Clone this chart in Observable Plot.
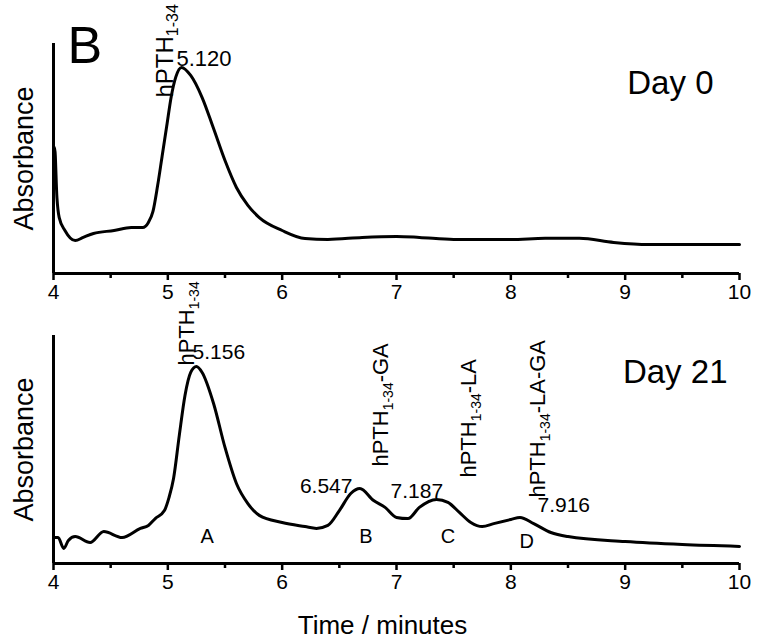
<!DOCTYPE html>
<html>
<head>
<meta charset="utf-8">
<script src="https://cdn.jsdelivr.net/npm/d3@7"></script>
<script src="https://cdn.jsdelivr.net/npm/@observablehq/plot@0.6"></script>
<style>
  body { margin: 0; background: white; }
  #chart { width: 764px; }
  #chart svg { display: block; }
</style>
</head>
<body>
<div id="chart"></div>
<script>
// ---------- data ----------
const xTicks = [4, 5, 6, 7, 8, 9, 10];
const xMinorTicks = [4.5, 5.5, 6.5, 7.5, 8.5, 9.5];

// Day 0 chromatogram
const day0Time = [4.00,4.01,4.03,4.05,4.10,4.19,4.26,4.35,4.53,4.68,4.78,4.83,4.87,4.91,4.95,4.99,5.03,5.07,5.12,5.20,5.30,5.40,5.50,5.60,5.70,5.80,6.00,6.20,6.40,6.70,7.00,7.20,7.50,7.80,8.00,8.30,8.60,8.90,9.20,10.00];
const day0Abs  = [54.0,54.8,33.0,24.3,18.7,14.3,15.7,17.4,18.7,20.0,20.0,22.2,27.0,38.0,51.0,64.0,77.0,85.5,89.6,86.1,76.5,63.0,49.1,37.4,29.6,24.3,18.7,15.2,14.8,15.7,16.1,15.7,14.8,14.8,14.8,15.3,15.3,13.5,12.6,12.6];

// Day 21 chromatogram
const day21Time = [4.00,4.04,4.09,4.13,4.19,4.32,4.44,4.60,4.76,4.83,4.89,4.97,5.01,5.05,5.10,5.15,5.20,5.25,5.30,5.40,5.50,5.60,5.70,5.80,6.00,6.20,6.30,6.40,6.50,6.60,6.68,6.80,6.90,7.00,7.10,7.20,7.35,7.45,7.55,7.65,7.75,7.85,8.00,8.08,8.20,8.35,8.50,9.00,9.50,10.00];
const day21Abs  = [11.4,11.4,6.6,10.1,11.8,9.2,14.0,11.4,15.4,16.7,19.7,23.2,28.9,37.3,56.1,73.7,83.8,86.4,83.8,70.2,50.9,35.1,26.3,21.1,18.0,16.2,15.4,16.7,23.2,30.7,32.9,27.6,24.6,20.2,19.7,24.6,28.1,26.8,22.4,18.0,16.2,17.5,19.3,20.2,17.5,13.6,11.8,9.6,8.3,7.5];

// annotations (anchored in data units: time, absorbance)
const day0RtLabels = ["5.120"];
const day0RtTime = [5.076];
const day0RtAbs = [90.4];
const day0NameLabels = ["hPTH1-34"];
const day0NameTime = [5.041];
const day0NameAbs = [76.5];

const day21RtLabels = ["5.156", "7.187", "7.916"];
const day21RtTime = [5.216, 6.948, 8.233];
const day21RtAbs = [89.9, 28.9, 22.4];
const day21RtLeftLabels = ["6.547"];
const day21RtLeftTime = [6.615];
const day21RtLeftAbs = [31.1];
const day21NameLabels = ["hPTH1-34", "hPTH1-34-GA", "hPTH1-34-LA", "hPTH1-34-LA-GA"];
const day21NameTime = [5.225, 6.93, 7.691, 8.303];
const day21NameAbs = [86.8, 42.5, 37.7, 28.9];
const peakLetters = ["A", "B", "C", "D"];
const peakLetterTime = [5.343, 6.733, 7.45, 8.14];
const peakLetterAbs = [9.2, 8.8, 8.8, 7.0];

// ---------- chart ----------
const FONT = "Liberation Sans, Arial, Helvetica, sans-serif";
const rows = (ts, as) => ts.map((t, i) => ({t, a: as[i]}));

function axes() {
  return [
    Plot.ruleY([0], {stroke: "black", strokeWidth: 3}),
    Plot.ruleX([4], {y1: 0, y2: 100, stroke: "black", strokeWidth: 3}),
    Plot.axisX({ticks: xTicks, anchor: "bottom", tickSize: 7, tickPadding: 4, fontSize: 21, strokeWidth: 2.5, label: null, tickFormat: d => String(d)}),
    Plot.axisX({ticks: xMinorTicks, anchor: "bottom", tickSize: 5, tickPadding: 0, strokeWidth: 2.5, label: null, tickFormat: () => ""})
  ];
}

function yLabel() {
  return Plot.text(["Absorbance"], {frameAnchor: "left", text: d => d, rotate: -90, dx: -21, fontSize: 27, lineAnchor: "bottom", textAnchor: "middle"});
}

const common = {
  width: 764,
  marginLeft: 53,
  marginRight: 25,
  x: {domain: [4, 10], axis: null},
  y: {domain: [0, 100], axis: null},
  style: {fontFamily: FONT, background: "white", color: "black", overflow: "visible"}
};

const plot0 = Plot.plot({
  ...common,
  height: 302,
  marginTop: 43,
  marginBottom: 29,
  marks: [
    ...axes(),
    yLabel(),
    Plot.line(rows(day0Time, day0Abs), {x: "t", y: "a", curve: "monotone-x", stroke: "black", strokeWidth: 3}),
    Plot.text(day0RtLabels, {x: day0RtTime, y: day0RtAbs, text: d => d, fontSize: 22, textAnchor: "start", lineAnchor: "bottom"}),
    Plot.text(day0NameLabels, {x: day0NameTime, y: day0NameAbs, text: d => d, fontSize: 24, rotate: -90, textAnchor: "start", lineAnchor: "bottom"}),
    Plot.text(["Day 0"], {frameAnchor: "top-right", text: d => d, dx: -26, dy: 50, fontSize: 33, textAnchor: "end", lineAnchor: "bottom"}),
    Plot.text(["B"], {frameAnchor: "top-left", text: d => d, dx: 14, dy: 19, fontSize: 52, textAnchor: "start", lineAnchor: "bottom"})
  ]
});

const plot21 = Plot.plot({
  ...common,
  height: 339,
  marginTop: 33,
  marginBottom: 78,
  marks: [
    ...axes(),
    yLabel(),
    Plot.line(rows(day21Time, day21Abs), {x: "t", y: "a", curve: "monotone-x", stroke: "black", strokeWidth: 3}),
    Plot.text(day21RtLabels, {x: day21RtTime, y: day21RtAbs, text: d => d, fontSize: 21, textAnchor: "start", lineAnchor: "bottom"}),
    Plot.text(day21RtLeftLabels, {x: day21RtLeftTime, y: day21RtLeftAbs, text: d => d, fontSize: 21, textAnchor: "end", lineAnchor: "bottom"}),
    Plot.text(day21NameLabels, {x: day21NameTime, y: day21NameAbs, text: d => d, fontSize: 22, rotate: -90, textAnchor: "start", lineAnchor: "bottom"}),
    Plot.text(peakLetters, {x: peakLetterTime, y: peakLetterAbs, text: d => d, fontSize: 20, textAnchor: "middle", lineAnchor: "bottom"}),
    Plot.text(["Day 21"], {frameAnchor: "top-right", text: d => d, dx: -12, dy: 47, fontSize: 33, textAnchor: "end", lineAnchor: "bottom"}),
    Plot.text(["Time / minutes"], {frameAnchor: "bottom", text: d => d, dx: -14, dy: 70, fontSize: 26, textAnchor: "middle", lineAnchor: "bottom"})
  ]
});

// subscript "1-34" inside peptide names
function subscriptify(svg, subSize, shift) {
  const ns = "http://www.w3.org/2000/svg";
  svg.querySelectorAll("text").forEach(t => {
    const m = t.textContent.match(/^(hPTH)(1-34)(.*)$/);
    if (!m) return;
    t.textContent = "";
    const a = document.createElementNS(ns, "tspan");
    a.textContent = m[1];
    const b = document.createElementNS(ns, "tspan");
    b.textContent = m[2];
    b.setAttribute("font-size", subSize);
    b.setAttribute("dy", shift);
    t.append(a, b);
    if (m[3]) {
      const c = document.createElementNS(ns, "tspan");
      c.textContent = m[3];
      c.setAttribute("dy", -shift);
      t.append(c);
    }
  });
}
subscriptify(plot0, 16, 5);
subscriptify(plot21, 14, 5);

document.getElementById("chart").append(plot0, plot21);
</script>
</body>
</html>
